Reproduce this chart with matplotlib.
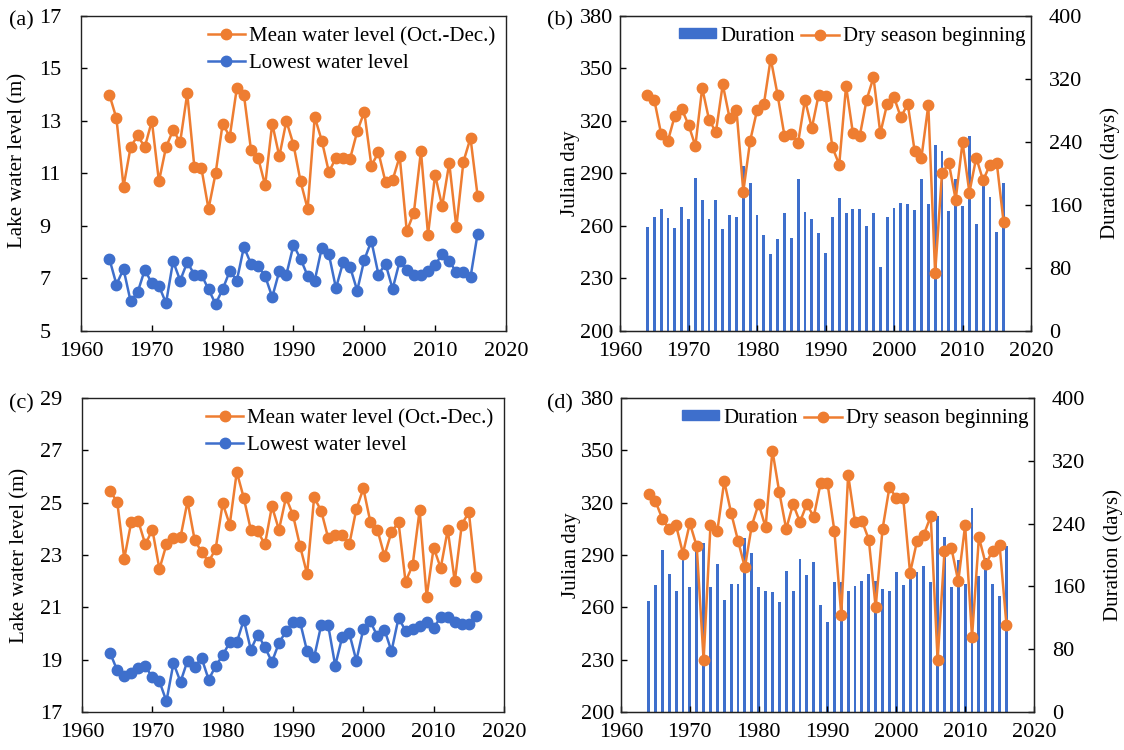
import numpy as np
import matplotlib
matplotlib.use('Agg')
import matplotlib.pyplot as plt
from matplotlib.patches import Patch
from matplotlib.lines import Line2D

plt.rcParams['font.family'] = ['Liberation Serif', 'DejaVu Serif']
plt.rcParams['font.size'] = 15

# ---------- data: 1964-2016 ----------
years = list(range(1964, 2017))

# (a) lake water level (m), first station
a_mean = [14.0, 13.1, 10.5, 12.0, 12.45, 12.0, 13.0, 10.7, 12.0, 12.65,
          12.2, 14.05, 11.25, 11.2, 9.65, 11.0, 12.9, 12.4, 14.25, 14.0,
          11.9, 11.6, 10.55, 12.9, 11.65, 13.0, 12.1,
          10.7, 9.65, 13.15, 12.25, 11.05, 11.6, 11.6, 11.57, 12.6, 13.35,
          11.3, 11.8, 10.67, 10.75, 11.65, 8.8, 9.5, 11.85, 8.67, 10.95,
          9.75, 11.4, 8.95, 11.45, 12.35, 10.15]
a_low = [7.75, 6.77, 7.36, 6.13, 6.48, 7.33, 6.82, 6.72, 6.06, 7.66,
         6.92, 7.62, 7.15, 7.14, 6.59, 6.03, 6.59, 7.28, 6.92, 8.2,
         7.56, 7.47, 7.09, 6.29, 7.28, 7.15, 8.27,
         7.75, 7.1, 6.92, 8.17, 7.92, 6.63, 7.61, 7.43, 6.54, 7.71,
         8.43, 7.15, 7.56, 6.6, 7.66, 7.34, 7.14, 7.15, 7.3, 7.5,
         7.94, 7.66, 7.24, 7.24, 7.05, 8.7]

# (b) dry season beginning (Julian day) and duration (days)
b_julian = [334.6, 332.1, 312.7, 308.7, 323, 327, 317.8, 305.8, 338.8, 320.7,
            313.6, 340.9, 321.6, 326.4, 279.7, 308.7, 326, 329.6, 355.7, 335,
            311.7, 312.7, 307.7, 332.1, 315.9, 335, 334.4, 305, 295.1, 340,
            313, 311.5, 332.1, 344.9, 313, 329.8, 333.6, 322, 329.8, 303.1,
            299.1, 328.9, 233, 290.2, 295.9, 275, 307.9, 279.1, 299.1, 286,
            295, 295.9, 262]
b_duration = [132.5, 145, 154.5, 143.5, 131, 157.5, 142.6, 194.7, 166.3, 141.8,
              166.3, 129.5, 147.7, 144.3, 209.5, 187.5, 147.7, 122.3, 97.4, 116.4,
              150.3, 118.5, 192.6, 151.1, 141.8, 124.9, 98.6, 144.3, 169.3, 149.4,
              154.9, 154.9, 133.8, 149.4, 81.7, 145.2, 156.6, 162.1, 161.3, 153.7,
              193, 161.3, 236.2, 229, 152.8, 192.6, 159.2, 247.6, 135.4, 198.1,
              170.6, 125.3, 188.4]

# (c) lake water level (m), second station
c_mean = [25.43, 25.03, 22.86, 24.26, 24.29, 23.4, 23.97, 22.46, 23.4, 23.65,
          23.68, 25.05, 23.59, 23.11, 22.73, 23.24, 24.97, 24.16, 26.17, 25.18,
          23.96, 23.9, 23.4, 24.86, 23.96, 25.2, 24.52,
          23.34, 22.27, 25.2, 24.69, 23.65, 23.78, 23.75, 23.4, 24.75, 25.54,
          24.26, 23.96, 22.97, 23.88, 24.25, 21.98, 22.6, 24.71, 21.41, 23.28,
          22.5, 23.96, 21.99, 24.16, 24.64, 22.15]
c_low = [19.25, 18.59, 18.39, 18.49, 18.68, 18.75, 18.32, 18.17, 17.41, 18.87,
         18.15, 18.96, 18.72, 19.06, 18.24, 18.75, 19.17, 19.66, 19.66, 20.52,
         19.38, 19.96, 19.48, 18.91, 19.64, 20.08, 20.44,
         20.44, 19.32, 19.09, 20.31, 20.31, 18.77, 19.87, 20.01, 18.96, 20.17,
         20.46, 19.89, 20.15, 19.32, 20.59, 20.11, 20.17, 20.27, 20.43, 20.21,
         20.63, 20.63, 20.44, 20.36, 20.36, 20.66]

# (d) dry season beginning (Julian day) and duration (days)
d_julian = [325, 320.8, 310.8, 304.9, 307, 290.8, 308.2, 295, 229.8, 307,
            303.9, 332.2, 314.1, 298.2, 282.9, 306.8, 319.4, 305.9, 349.8, 325.9,
            304.9, 319.2, 308.9, 319.2, 311.8, 331.1, 331.1, 303.9, 255.8, 336,
            308.9, 309.7, 298.8, 260, 304.9, 328.8, 322.7, 322.7, 279.7, 297.8,
            301.7, 312.2, 229.8, 292.1, 294, 274.9, 307, 242.8, 300.1, 284.8,
            292.5, 295.9, 250.1]
d_duration = [141, 162.2, 206, 176.2, 153.7, 197, 158.8, 212, 215.3, 159.2,
              188.5, 142.3, 163, 163, 221.7, 202.5, 158.8, 154.6, 152.9, 140.1,
              179.2, 154.6, 194.9, 175, 191.1, 136.7, 114.6, 165.6, 165.6, 154.6,
              160.9, 166.5, 175.8, 166.5, 157.1, 154.6, 178.3, 162.2, 171.5, 178.3,
              185.6, 165.6, 249.3, 222.5, 158.8, 193.2, 163, 259.9, 173.7, 196.2,
              163, 148.2, 211]

ORANGE = '#EE7D31'
BLUE = '#3E6FCC'
LINE_KW = dict(linewidth=1.8, marker='o', markersize=7.5)
TICK_SIZE = 16


def style_axis(ax):
    ax.set_xlim(1960, 2020)
    ax.set_xticks(range(1960, 2021, 10))
    ax.tick_params(direction='in', length=4, width=1, labelsize=TICK_SIZE)
    ax.tick_params(axis='x', pad=8)
    for sp in ax.spines.values():
        sp.set_linewidth(1.0)
        sp.set_color('#222222')


def level_panel(rect, mean, low, ylim, label_y):
    ax = fig.add_axes(rect)
    ax.plot(years, mean, color=ORANGE, label='Mean water level (Oct.-Dec.)', **LINE_KW)
    ax.plot(years, low, color=BLUE, label='Lowest water level', **LINE_KW)
    style_axis(ax)
    ax.set_ylim(*ylim)
    ax.set_yticks(range(ylim[0], ylim[1] + 1, 2))
    # y tick labels are left aligned in a column away from the spine
    ax.tick_params(axis='y', pad=30)
    for t in ax.get_yticklabels():
        t.set_horizontalalignment('left')
    ax.set_ylabel('Lake water level (m)', fontsize=15)
    ax.yaxis.set_label_coords(-0.125, label_y)
    ax.legend(loc='upper right', bbox_to_anchor=(1.02, 1.025), frameon=False,
              fontsize=15, handlelength=1.8, handletextpad=0.2, labelspacing=0.35)
    return ax


def season_panel(rect, julian, duration, label_y):
    ax = fig.add_axes(rect)
    ax2 = ax.twinx()
    # bars on the right axis, line on the left axis drawn above them
    ax2.bar(years, duration, width=0.42, color=BLUE)
    ax.plot(years, julian, color=ORANGE, **LINE_KW)
    ax.set_zorder(ax2.get_zorder() + 1)
    ax.patch.set_visible(False)

    style_axis(ax)
    ax.tick_params(axis='y', pad=5)
    ax2.tick_params(direction='in', length=4, width=1, labelsize=TICK_SIZE, pad=13)
    ax.set_ylim(200, 380)
    ax.set_yticks(range(200, 381, 30))
    ax2.set_ylim(0, 400)
    ax2.set_yticks(range(0, 401, 80))
    ax.set_ylabel('Julian day', fontsize=15)
    ax.yaxis.set_label_coords(-0.097, label_y)
    ax2.set_ylabel('Duration (days)', fontsize=15)
    ax2.yaxis.set_label_coords(1.168, label_y)

    handles = [Patch(color=BLUE),
               Line2D([], [], color=ORANGE, **LINE_KW)]
    ax.legend(handles, ['Duration', 'Dry season beginning'], loc='upper right',
              bbox_to_anchor=(1.032, 1.025), ncol=2, frameon=False, fontsize=15,
              handlelength=1.8, handleheight=0.35, handletextpad=0.2,
              columnspacing=0.3)
    return ax


fig = plt.figure(figsize=(11.24, 7.5), dpi=100)

level_panel([0.0721, 0.5587, 0.378, 0.42], a_mean, a_low, (5, 17), 0.54)
season_panel([0.5516, 0.5587, 0.3657, 0.42], b_julian, b_duration, 0.5)
level_panel([0.0730, 0.0507, 0.3754, 0.4187], c_mean, c_low, (17, 29), 0.5)
season_panel([0.5525, 0.0507, 0.3674, 0.4187], d_julian, d_duration, 0.5)

# panel tags
for x, y, tag in [(0.008, 0.972, '(a)'), (0.487, 0.972, '(b)'),
                  (0.008, 0.462, '(c)'), (0.487, 0.462, '(d)')]:
    fig.text(x, y, tag, fontsize=16, ha='left', va='center')

fig.savefig('out.png', dpi=100)
